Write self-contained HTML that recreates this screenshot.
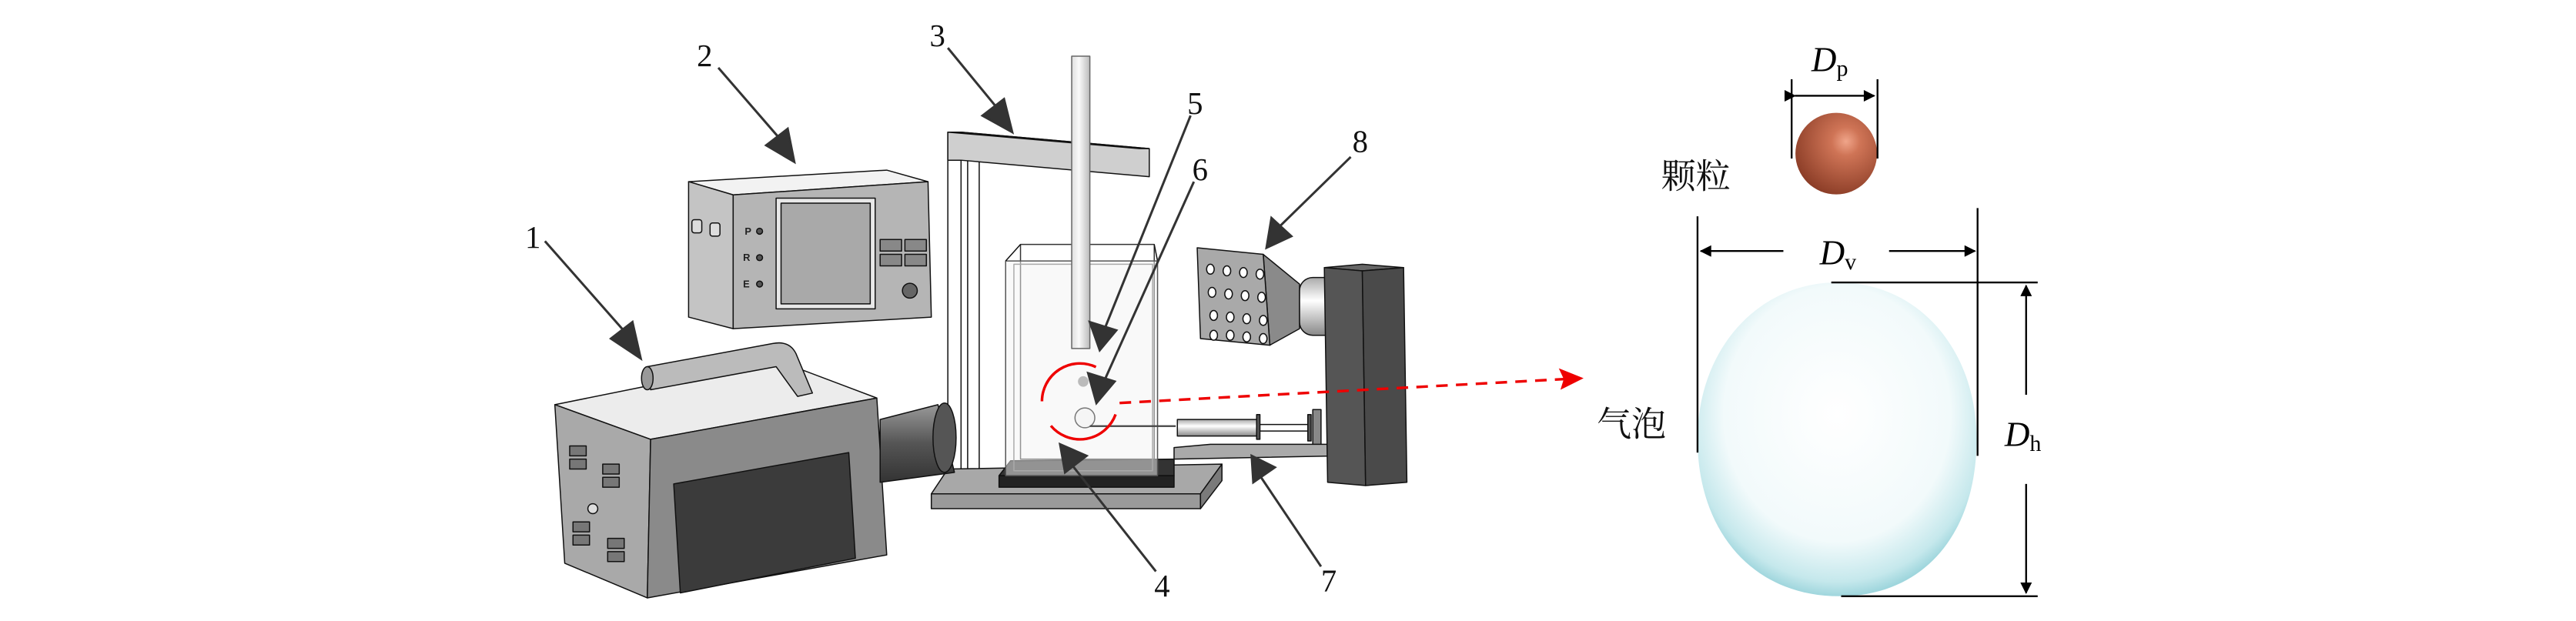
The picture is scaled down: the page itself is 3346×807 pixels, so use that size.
<!DOCTYPE html>
<html><head><meta charset="utf-8"><style>
html,body{margin:0;padding:0;background:#fff;}
svg{display:block;}
.n{font-family:"Liberation Serif",serif;font-size:19px;fill:#111;}
.d{font-family:"Liberation Serif",serif;font-size:21px;fill:#000;}
.cj{font-family:"Liberation Sans","Noto Serif CJK SC","Noto Sans CJK SC",serif;font-size:21px;fill:#111;}
</style></head><body>
<svg width="3346" height="807" viewBox="0 0 1560 376" preserveAspectRatio="none" xmlns="http://www.w3.org/2000/svg">
<defs>
<radialGradient id="pg" cx="0.62" cy="0.35" r="0.7">
<stop offset="0" stop-color="#f0a58a"/><stop offset="0.25" stop-color="#cf7456"/><stop offset="1" stop-color="#8a3c26"/>
</radialGradient>
<radialGradient id="bg" cx="0.5" cy="0.42" r="0.58">
<stop offset="0" stop-color="#ffffff"/><stop offset="0.7" stop-color="#f2fafb"/><stop offset="0.92" stop-color="#c5e8ec"/><stop offset="1" stop-color="#9fd6dd"/>
</radialGradient>
<linearGradient id="lens" x1="0" y1="0" x2="0" y2="1">
<stop offset="0" stop-color="#999"/><stop offset="0.5" stop-color="#555"/><stop offset="1" stop-color="#333"/>
</linearGradient>
<linearGradient id="cyl" x1="0" y1="0" x2="0" y2="1">
<stop offset="0" stop-color="#aaa"/><stop offset="0.4" stop-color="#fff"/><stop offset="1" stop-color="#888"/>
</linearGradient>
<linearGradient id="rod" x1="0" y1="0" x2="1" y2="0">
<stop offset="0" stop-color="#ddd"/><stop offset="0.4" stop-color="#fafafa"/><stop offset="1" stop-color="#bbb"/>
</linearGradient>
<marker id="ah" viewBox="0 0 10 10" refX="9" refY="5" markerWidth="11" markerHeight="7" orient="auto" markerUnits="userSpaceOnUse"><path d="M0,0L10,5L0,10z" fill="#000"/></marker>
</defs>
<g stroke="#111" stroke-width="0.7" stroke-linejoin="round">
<polygon points="417,110 537,103 562,110 444,118" fill="#f2f2f2"/>
<polygon points="417,110 444,118 444,199 417,192" fill="#c4c4c4"/>
<polygon points="444,118 562,110 564,192 444,199" fill="#b5b5b5"/>
<rect x="470" y="120" width="60" height="67" fill="#e8e8e8"/>
<rect x="473" y="123" width="54" height="61" fill="#a9a9a9"/>
<rect x="533" y="145" width="13" height="7" fill="#888"/><rect x="548" y="145" width="13" height="7" fill="#888"/>
<rect x="533" y="154" width="13" height="7" fill="#888"/><rect x="548" y="154" width="13" height="7" fill="#888"/>
<circle cx="551" cy="176" r="4.5" fill="#666"/>
<circle cx="460" cy="140" r="1.8" fill="#555"/><circle cx="460" cy="156" r="1.8" fill="#555"/><circle cx="460" cy="172" r="1.8" fill="#555"/>
<rect x="419" y="133" width="6" height="8" rx="1.5" fill="#ddd"/><rect x="430" y="135" width="6" height="8" rx="1.5" fill="#ddd"/>
</g>
<g font-family="Liberation Sans,sans-serif" font-size="6" fill="#222" font-weight="bold"><text x="451" y="142">P</text><text x="450" y="158">R</text><text x="450" y="174">E</text></g>
<g stroke="#111" stroke-width="0.7" stroke-linejoin="round">
<rect x="574" y="80" width="8" height="205" fill="#fff"/>
<rect x="586" y="97" width="7" height="188" fill="#fff"/>
<polygon points="574,80 582,80 696,90 696,107 582,97 574,97" fill="#cfcfcf"/>
<polygon points="574,80 582,80 696,90 690,90" fill="#eee"/>
<polygon points="574,284 740,281 727,299 564,299" fill="#a8a8a8"/>
<rect x="564" y="299" width="163" height="9" fill="#9a9a9a"/>
<polygon points="727,299 740,281 740,291 727,308" fill="#7a7a7a"/>
<polygon points="612,279 711,278 711,288 605,288" fill="#333"/>
<rect x="605" y="288" width="106" height="7" fill="#222"/>
<rect x="618" y="148" width="81" height="130" fill="none" stroke="#333"/>
<rect x="609" y="158" width="92" height="130" fill="#f4f4f4" fill-opacity="0.5" stroke="#555"/>
<line x1="609" y1="158" x2="618" y2="148"/><line x1="701" y1="158" x2="699" y2="148"/>
<rect x="614" y="160" width="84" height="125" fill="none" stroke="#aaa"/>
<rect x="649" y="34" width="11" height="177" fill="url(#rod)" stroke="#666"/>
<circle cx="656" cy="231" r="3.2" fill="#bbb" stroke="none"/>
<circle cx="657" cy="253" r="6" fill="#f5f5f5" stroke="#777"/>
<line x1="660" y1="258" x2="712" y2="258" stroke="#444" stroke-width="1"/>
<rect x="713" y="254" width="48" height="10" fill="url(#cyl)"/>
<line x1="761" y1="257" x2="792" y2="257"/><line x1="761" y1="261" x2="792" y2="261"/>
<rect x="761" y="251" width="2" height="15" fill="#555"/>
<rect x="792" y="251" width="2" height="16" fill="#555"/>
<rect x="795" y="248" width="5" height="23" fill="#888"/>
<polygon points="711,271 733,269 812,269 812,276 711,278" fill="#aaa"/>
<polygon points="765,154 787,172 787,199 769,209" fill="#8a8a8a"/>
<rect x="787" y="168" width="28" height="35" rx="8" fill="url(#cyl)"/>
<polygon points="725,150 765,154 769,209 727,205" fill="#a9a9a9"/>
</g>
<g fill="#fff" stroke="#111" stroke-width="0.7">
<ellipse cx="733" cy="163" rx="2.3" ry="3"/><ellipse cx="743" cy="164" rx="2.3" ry="3"/><ellipse cx="753" cy="165" rx="2.3" ry="3"/><ellipse cx="763" cy="166" rx="2.3" ry="3"/>
<ellipse cx="734" cy="177" rx="2.3" ry="3"/><ellipse cx="744" cy="178" rx="2.3" ry="3"/><ellipse cx="754" cy="179" rx="2.3" ry="3"/><ellipse cx="764" cy="180" rx="2.3" ry="3"/>
<ellipse cx="735" cy="191" rx="2.3" ry="3"/><ellipse cx="745" cy="192" rx="2.3" ry="3"/><ellipse cx="755" cy="193" rx="2.3" ry="3"/><ellipse cx="765" cy="194" rx="2.3" ry="3"/>
<ellipse cx="735" cy="203" rx="2.3" ry="3" /><ellipse cx="745" cy="203" rx="2.3" ry="3"/><ellipse cx="755" cy="204" rx="2.3" ry="3"/><ellipse cx="765" cy="205" rx="2.3" ry="3"/>
</g>
<g stroke="#111" stroke-width="0.7" stroke-linejoin="round">
<polygon points="802,162 825,160 850,162 825,164" fill="#666"/>
<polygon points="802,162 825,164 827,294 804,292" fill="#555"/>
<polygon points="825,164 850,162 852,292 827,294" fill="#4a4a4a"/>
<polygon points="336,245 470,218 531,241 394,266" fill="#ececec"/>
<polygon points="336,245 394,266 392,362 342,341" fill="#a9a9a9"/>
<polygon points="394,266 531,241 537,336 392,362" fill="#8a8a8a"/>
<polygon points="408,293 514,274 518,338 412,359" fill="#3b3b3b"/>
<polygon points="533,254 568,245 578,286 533,292" fill="url(#lens)"/>
<ellipse cx="572" cy="265" rx="7" ry="21" fill="#555"/>
<path d="M392,222 L468,208 Q478,206 482,214 L492,238 L483,240 L470,222 L394,236 Z" fill="#bbb"/>
<ellipse cx="392" cy="229" rx="3.5" ry="7" fill="#999"/>
<g fill="#777"><rect x="345" y="270" width="10" height="6"/><rect x="345" y="278" width="10" height="6"/><rect x="365" y="281" width="10" height="6"/><rect x="365" y="289" width="10" height="6"/>
<rect x="347" y="316" width="10" height="6"/><rect x="347" y="324" width="10" height="6"/><rect x="368" y="326" width="10" height="6"/><rect x="368" y="334" width="10" height="6"/></g>
<circle cx="359" cy="308" r="3" fill="#ddd"/>
</g>
<g fill="none" stroke="#e00" stroke-width="1.6">
<path d="M663.7,222.2 A23,23 0 0 0 631,243"/>
<path d="M636.4,257.8 A23,23 0 0 0 675.6,250.9"/>
<path d="M678,244 L948,229.5" stroke-dasharray="7,5"/>
</g>
<polygon points="959,229 944,223 947,229.5 945,236" fill="#e00"/>
<g stroke="#333" stroke-width="1.4" fill="#333">
<line x1="330" y1="146" x2="382" y2="205"/><polygon points="388,217 370,205 383,195"/>
<line x1="435" y1="41" x2="474" y2="86"/><polygon points="481,98 464,88 477,78"/>
<line x1="574" y1="29" x2="606" y2="68"/><polygon points="613,80 595,70 608,60"/>
<line x1="721" y1="70" x2="669" y2="199"/><polygon points="666,212 660,195 676,200"/>
<line x1="723" y1="110" x2="669" y2="230"/><polygon points="664,244 659,226 675,231"/>
<line x1="818" y1="95" x2="773" y2="139"/><polygon points="767,150 770,132 782,143"/>
<line x1="700" y1="346" x2="648" y2="280"/><polygon points="642,269 658,276 645,286"/>
<line x1="800" y1="343" x2="763" y2="288"/><polygon points="758,276 772,283 759,292"/>
</g>
<g class="n">
<text x="318" y="150">1</text><text x="422" y="40">2</text><text x="563" y="28">3</text>
<text x="719" y="69">5</text><text x="722" y="109">6</text><text x="819" y="92">8</text>
<text x="699" y="361">4</text><text x="800" y="358">7</text>
</g>
<circle cx="1112" cy="93" r="24.7" fill="url(#pg)"/>
<path d="M1113,171 C1162,171 1197,212 1197,266 C1197,322 1166,361 1114,361 C1060,361 1028,320 1028,266 C1028,212 1064,171 1113,171 Z" fill="url(#bg)"/>
<g stroke="#000" stroke-width="1.1">
<line x1="1085" y1="48" x2="1085" y2="96"/><line x1="1137" y1="48" x2="1137" y2="96"/>
<line x1="1087" y1="58" x2="1135" y2="58" marker-start="url(#ah)" marker-end="url(#ah)"/>
<line x1="1028" y1="131" x2="1028" y2="274"/><line x1="1197.6" y1="126" x2="1197.6" y2="276"/>
<line x1="1080" y1="152" x2="1030" y2="152" marker-end="url(#ah)"/>
<line x1="1144" y1="152" x2="1196" y2="152" marker-end="url(#ah)"/>
<line x1="1109" y1="171" x2="1234" y2="171"/><line x1="1115" y1="361" x2="1234" y2="361"/>
<line x1="1227" y1="239" x2="1227" y2="173" marker-end="url(#ah)"/>
<line x1="1227" y1="293" x2="1227" y2="359" marker-end="url(#ah)"/>
</g>
<g class="d">
<text x="1097" y="43"><tspan font-style="italic">D</tspan><tspan font-size="14" dy="3">p</tspan></text>
<text x="1102" y="160"><tspan font-style="italic">D</tspan><tspan font-size="14" dy="3">v</tspan></text>
<text x="1214" y="270"><tspan font-style="italic">D</tspan><tspan font-size="14" dy="3">h</tspan></text>
</g>
<text class="cj" x="1006" y="114">颗粒</text>
<text class="cj" x="967" y="264">气泡</text>
</svg>
</body></html>
